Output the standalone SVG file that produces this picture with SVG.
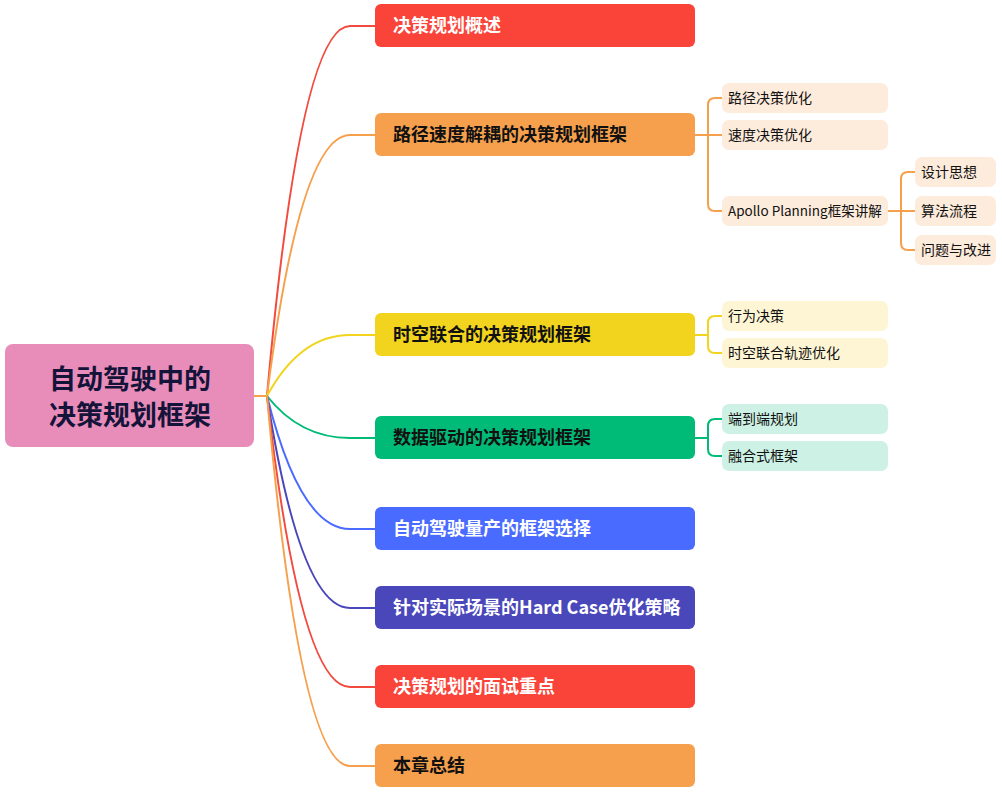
<svg xmlns="http://www.w3.org/2000/svg" width="1002" height="792" viewBox="0 0 1002 792">
<style>
.t{font-family:"Noto Sans CJK SC","Noto Sans",sans-serif;}
.main{font-size:18px;font-weight:bold;}
.sub{font-size:14px;}
.root{font-size:27px;font-weight:bold;fill:#14143a;}
.w{fill:#ffffff;}
.k{fill:#111111;}
.c{fill:none;stroke-width:2;}
</style>
<rect width="1002" height="792" fill="#ffffff"/>
<g id="connectors">
<path class="c" stroke="#F6A04D" d="M254,396 L267,396"/>
<path class="c" stroke="#F24A3E" d="M267,396 Q300,26 350,26 L375,26"/>
<path class="c" stroke="#F6A04D" d="M267,396 Q300,135 350,135 L375,135"/>
<path class="c" stroke="#F2D41F" d="M267,396 Q300,335 350,335 L375,335"/>
<path class="c" stroke="#00BB77" d="M267,396 Q300,438 350,438 L375,438"/>
<path class="c" stroke="#4A6BFF" d="M267,396 Q300,529 350,529 L375,529"/>
<path class="c" stroke="#4A47BB" d="M267,396 Q300,608 350,608 L375,608"/>
<path class="c" stroke="#F24A3E" d="M267,396 Q300,687 350,687 L375,687"/>
<path class="c" stroke="#F6A04D" d="M267,396 Q300,766 350,766 L375,766"/>
<path class="c" stroke="#F6A04D" d="M695,135 L722,135 M722,98 L715,98 Q708,98 708,105 L708,204 Q708,211 715,211 L722,211"/>
<path class="c" stroke="#F6A04D" d="M888,211 L915,211 M915,172 L908,172 Q901,172 901,179 L901,243 Q901,250 908,250 L915,250"/>
<path class="c" stroke="#F2D41F" d="M695,335 L708,335 M722,316 L715,316 Q708,316 708,323 L708,346 Q708,353 715,353 L722,353"/>
<path class="c" stroke="#00BB77" d="M695,438 L708,438 M722,419 L715,419 Q708,419 708,426 L708,449 Q708,456 715,456 L722,456"/>
</g>
<g id="root">
<rect x="5" y="344" width="249" height="103" rx="8" fill="#E88CB9"/>
<text class="t root" x="130" y="389" text-anchor="middle">自动驾驶中的</text>
<text class="t root" x="130" y="425" text-anchor="middle">决策规划框架</text>
</g>
<g id="n1">
<rect x="375" y="4" width="320" height="43" rx="6" fill="#FA4339"/>
<text class="t main w" x="393" y="32">决策规划概述</text>
</g>
<g id="n2">
<rect x="375" y="113" width="320" height="43" rx="6" fill="#F6A04D"/>
<text class="t main k" x="393" y="141">路径速度解耦的决策规划框架</text>
</g>
<g id="n2a">
<rect x="722" y="83" width="166" height="30" rx="7" fill="#FDEBDB"/>
<text class="t sub k" x="728" y="103">路径决策优化</text>
</g>
<g id="n2b">
<rect x="722" y="120" width="166" height="30" rx="7" fill="#FDEBDB"/>
<text class="t sub k" x="728" y="140">速度决策优化</text>
</g>
<g id="n2c">
<rect x="722" y="196" width="166" height="30" rx="7" fill="#FDEBDB"/>
<text class="t sub k" x="728" y="216" style="font-size:13.5px">Apollo Planning框架讲解</text>
</g>
<g id="n2c1">
<rect x="915" y="157" width="81" height="30" rx="7" fill="#FDEBDB"/>
<text class="t sub k" x="921" y="177">设计思想</text>
</g>
<g id="n2c2">
<rect x="915" y="196" width="81" height="30" rx="7" fill="#FDEBDB"/>
<text class="t sub k" x="921" y="216">算法流程</text>
</g>
<g id="n2c3">
<rect x="915" y="235" width="81" height="30" rx="7" fill="#FDEBDB"/>
<text class="t sub k" x="921" y="255">问题与改进</text>
</g>
<g id="n3">
<rect x="375" y="313" width="320" height="43" rx="6" fill="#F2D41F"/>
<text class="t main k" x="393" y="341">时空联合的决策规划框架</text>
</g>
<g id="n3a">
<rect x="722" y="301" width="166" height="30" rx="7" fill="#FDF5D3"/>
<text class="t sub k" x="728" y="321">行为决策</text>
</g>
<g id="n3b">
<rect x="722" y="338" width="166" height="30" rx="7" fill="#FDF5D3"/>
<text class="t sub k" x="728" y="358">时空联合轨迹优化</text>
</g>
<g id="n4">
<rect x="375" y="416" width="320" height="43" rx="6" fill="#00BB77"/>
<text class="t main k" x="393" y="444">数据驱动的决策规划框架</text>
</g>
<g id="n4a">
<rect x="722" y="404" width="166" height="30" rx="7" fill="#CDF1E4"/>
<text class="t sub k" x="728" y="424">端到端规划</text>
</g>
<g id="n4b">
<rect x="722" y="441" width="166" height="30" rx="7" fill="#CDF1E4"/>
<text class="t sub k" x="728" y="461">融合式框架</text>
</g>
<g id="n5">
<rect x="375" y="507" width="320" height="43" rx="6" fill="#4A6BFF"/>
<text class="t main w" x="393" y="535">自动驾驶量产的框架选择</text>
</g>
<g id="n6">
<rect x="375" y="586" width="320" height="43" rx="6" fill="#4A47BB"/>
<text class="t main w" x="393" y="614">针对实际场景的Hard Case优化策略</text>
</g>
<g id="n7">
<rect x="375" y="665" width="320" height="43" rx="6" fill="#FA4339"/>
<text class="t main w" x="393" y="693">决策规划的面试重点</text>
</g>
<g id="n8">
<rect x="375" y="744" width="320" height="43" rx="6" fill="#F6A04D"/>
<text class="t main k" x="393" y="772">本章总结</text>
</g>
</svg>
